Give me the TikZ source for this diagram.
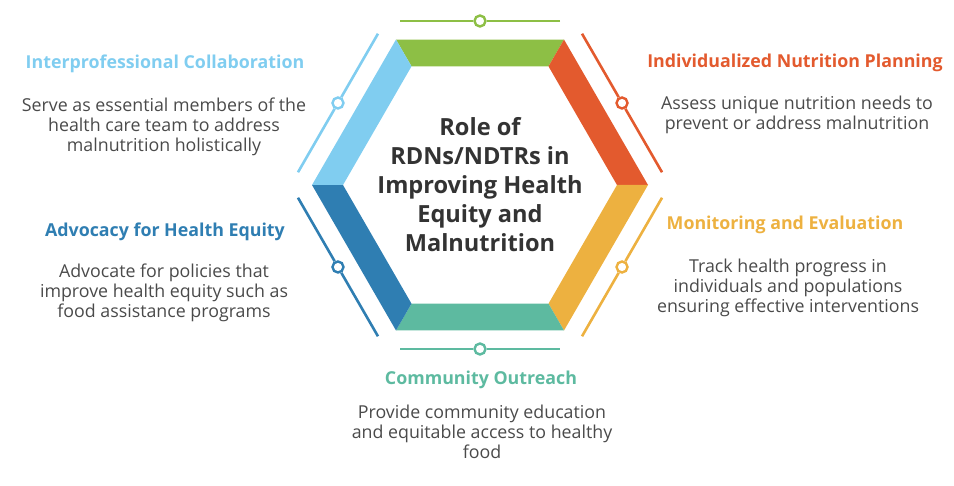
\documentclass[tikz,border=0pt]{standalone}
\usepackage{fontspec}
\setmainfont{Open Sans}
\usetikzlibrary{calc}
\definecolor{hgreen}{HTML}{8DBF45}
\definecolor{horange}{HTML}{E35A2E}
\definecolor{hyellow}{HTML}{EDB140}
\definecolor{hteal}{HTML}{5DBAA0}
\definecolor{hdblue}{HTML}{2F7EB2}
\definecolor{hlblue}{HTML}{80CDF0}
\definecolor{bodygray}{HTML}{4A4A4A}
\definecolor{titlegray}{HTML}{333333}
\tikzset{
  head/.style={font=\fontsize{17.8}{20}\selectfont\bfseries, inner sep=0pt},
  body/.style={font=\fontsize{17.8}{20}\selectfont, text=bodygray, align=center, inner sep=0pt},
  marker/.style={circle, draw=#1, fill=white, line width=2.4pt, minimum size=11pt, inner sep=0pt},
  rail/.style={draw=#1, line width=2.6pt},
}
\begin{document}
\begin{tikzpicture}[x=1pt,y=-1pt]
\useasboundingbox (0,0) rectangle (954,486);
\coordinate (C) at (480,185);
\foreach \a/\col [count=\i] in {240/hgreen,300/horange,0/hyellow,60/hteal,120/hdblue,180/hlblue}{
  \fill[\col] ($(C)+(\a:168)$) -- ($(C)+(\a+60:168)$) -- ($(C)+(\a+60:137)$) -- ($(C)+(\a:137)$) -- cycle;
  \node[marker=\col] (m\i) at ($(C)+(\a+30:164)$) {};
  \coordinate (ra\i) at ($(m\i)+(\a+120:80)$);
  \coordinate (rb\i) at ($(m\i)+(\a-60:80)$);
  \draw[rail=\col] (ra\i) -- (m\i) -- (rb\i);
}
\node[font=\fontsize{23.6}{29}\selectfont\bfseries, text=titlegray, align=center] (title) at (C) {Role of\\RDNs/NDTRs in\\Improving Health\\Equity and\\Malnutrition};

\node[head, text=hlblue] (collab) at (165,64) {Interprofessional Collaboration};
\node[body] (collabtext) at (164,127) {Serve as essential members of the\\health care team to address\\malnutrition holistically};

\node[head, text=hdblue] (advocacy) at (165,232) {Advocacy for Health Equity};
\node[body] (advocacytext) at (164,293) {Advocate for policies that\\improve health equity such as\\food assistance programs};

\node[head, text=horange] (planning) at (795,63) {Individualized Nutrition Planning};
\node[body] (planningtext) at (797,115) {Assess unique nutrition needs to\\prevent or address malnutrition};

\node[head, text=hyellow] (monitor) at (785,225) {Monitoring and Evaluation};
\node[body] (monitortext) at (788,288) {Track health progress in\\individuals and populations\\ensuring effective interventions};

\node[head, text=hteal] (outreach) at (481,380) {Community Outreach};
\node[body] (outreachtext) at (482,432) {Provide community education\\and equitable access to healthy\\food};
\end{tikzpicture}
\end{document}
